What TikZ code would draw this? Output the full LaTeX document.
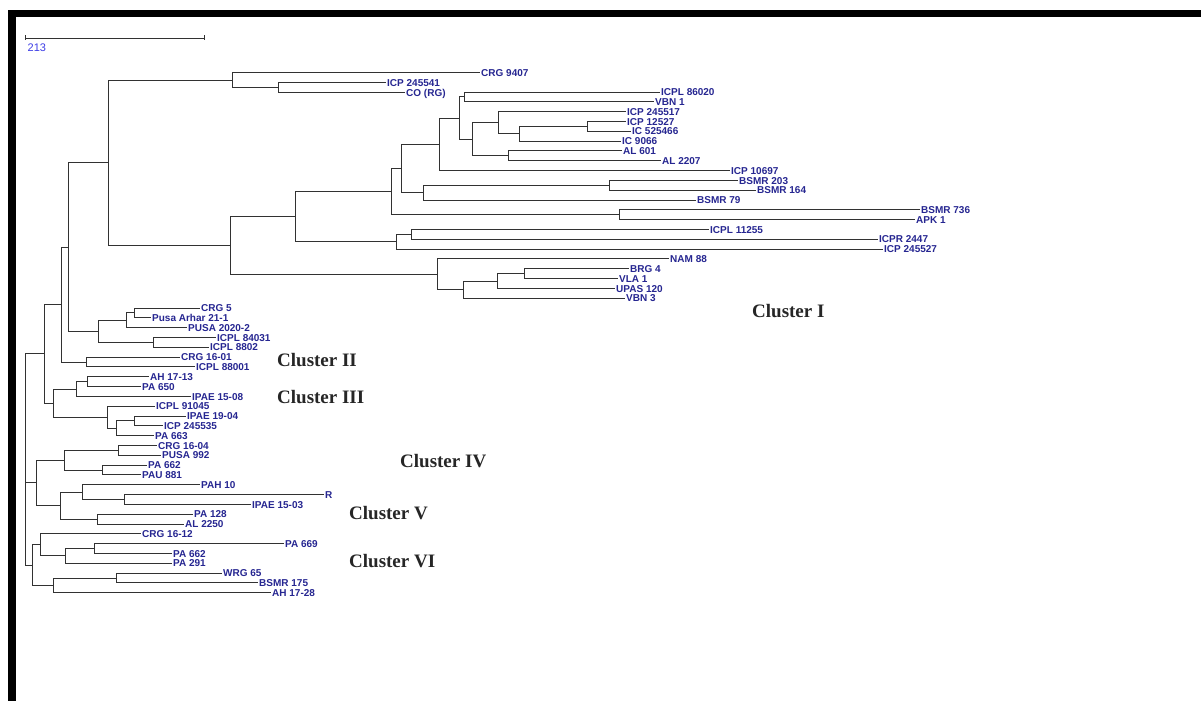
\documentclass[tikz,border=0pt]{standalone}
\usepackage{fontspec}
\setmainfont{Liberation Sans}
\newfontfamily\clusterfont{Liberation Serif}
\usetikzlibrary{calc}
\definecolor{leafblue}{RGB}{38,38,145}
\definecolor{scaleblue}{RGB}{60,60,230}
\definecolor{branchgray}{RGB}{50,50,50}
\newcommand\jn[4]{%
  \path let \p1=(#3), \p2=(#4) in coordinate (#1) at (#2,{0.5*(\y1+\y2)});
  \draw[br] (#1) |- (#3) (#1) |- (#4);
}
\begin{document}
\begin{tikzpicture}[x=1pt,y=-1pt,
  br/.style={draw=branchgray,line width=1pt},
  leaf/.style={anchor=west,inner sep=1pt,text=leafblue,font=\fontsize{10}{12}\selectfont\bfseries,text height=7.2pt,text depth=0pt},
  clus/.style={anchor=base west,inner sep=0pt,font=\clusterfont\fontsize{19}{22}\selectfont\bfseries,text=black!85},
  framebar/.style={fill=black},
]
\useasboundingbox (0,0) rectangle (1201,701);
\fill[white] (0,0) rectangle (1201,701);
% frame
\fill[framebar] (8,10.5) rectangle (1201,17);
\fill[framebar] (8,10.5) rectangle (16,701);
% scale bar
\coordinate (sb1) at (25,38);
\coordinate (sb2) at (204,38);
\draw[branchgray,line width=0.9pt] (sb1) -- (sb2);
\draw[branchgray,line width=0.9pt] ($(sb1)+(0,-2.5)$) -- ($(sb1)+(0,2.5)$);
\draw[branchgray,line width=0.9pt] ($(sb2)+(0,-2.5)$) -- ($(sb2)+(0,2.5)$);
\node[anchor=west,inner sep=0pt,text=scaleblue,font=\fontsize{11}{13}\selectfont] (sblabel) at (27.5,47.5) {213};
% leaves
\node[leaf] (l1) at (480,72.5) {CRG 9407};
\node[leaf] (l2) at (386,82.5) {ICP 245541};
\node[leaf] (l3) at (405,92.5) {CO (RG)};
\node[leaf] (l4) at (660,92) {ICPL 86020};
\node[leaf] (l5) at (654,101.8) {VBN 1};
\node[leaf] (l6) at (626,111.6) {ICP 245517};
\node[leaf] (l7) at (626,121.5) {ICP 12527};
\node[leaf] (l8) at (631,131.3) {IC 525466};
\node[leaf] (l9) at (621,141.1) {IC 9066};
\node[leaf] (l10) at (622,150.9) {AL 601};
\node[leaf] (l11) at (661,160.7) {AL 2207};
\node[leaf] (l12) at (730,170.6) {ICP 10697};
\node[leaf] (l13) at (738,180.4) {BSMR 203};
\node[leaf] (l14) at (756,190.2) {BSMR 164};
\node[leaf] (l15) at (696,200) {BSMR 79};
\node[leaf] (l16) at (920,209.8) {BSMR 736};
\node[leaf] (l17) at (915,219.7) {APK 1};
\node[leaf] (l18) at (709,229.5) {ICPL 11255};
\node[leaf] (l19) at (878,239.3) {ICPR 2447};
\node[leaf] (l20) at (883,249.1) {ICP 245527};
\node[leaf] (l21) at (669,258.9) {NAM 88};
\node[leaf] (l22) at (629,268.7) {BRG 4};
\node[leaf] (l23) at (618,278.6) {VLA 1};
\node[leaf] (l24) at (615,288.4) {UPAS 120};
\node[leaf] (l25) at (625,298.2) {VBN 3};
\node[leaf] (l26) at (200,308) {CRG 5};
\node[leaf] (l27) at (151,317.8) {Pusa Arhar 21-1};
\node[leaf] (l28) at (187,327.6) {PUSA 2020-2};
\node[leaf] (l29) at (216,337.5) {ICPL 84031};
\node[leaf] (l30) at (209,347.3) {ICPL 8802};
\node[leaf] (l31) at (180,357.1) {CRG 16-01};
\node[leaf] (l32) at (195,366.9) {ICPL 88001};
\node[leaf] (l33) at (149,376.7) {AH 17-13};
\node[leaf] (l34) at (141,386.6) {PA 650};
\node[leaf] (l35) at (191,396.4) {IPAE 15-08};
\node[leaf] (l36) at (155,406.2) {ICPL 91045};
\node[leaf] (l37) at (186,416) {IPAE 19-04};
\node[leaf] (l38) at (163,425.8) {ICP 245535};
\node[leaf] (l39) at (154,435.6) {PA 663};
\node[leaf] (l40) at (157,445.5) {CRG 16-04};
\node[leaf] (l41) at (161,455.3) {PUSA 992};
\node[leaf] (l42) at (147,465.1) {PA 662};
\node[leaf] (l43) at (141,474.9) {PAU 881};
\node[leaf] (l44) at (200,484.7) {PAH 10};
\node[leaf] (l45) at (324,494.5) {R};
\node[leaf] (l46) at (251,504.4) {IPAE 15-03};
\node[leaf] (l47) at (193,514.2) {PA 128};
\node[leaf] (l48) at (184,524) {AL 2250};
\node[leaf] (l49) at (141,533.8) {CRG 16-12};
\node[leaf] (l50) at (284,543.6) {PA 669};
\node[leaf] (l51) at (172,553.5) {PA 662};
\node[leaf] (l52) at (172,563.3) {PA 291};
\node[leaf] (l53) at (222,573.1) {WRG 65};
\node[leaf] (l54) at (258,582.9) {BSMR 175};
\node[leaf] (l55) at (271,592.7) {AH 17-28};
% internal nodes
\jn{a2}{278}{l2}{l3}
\jn{a1}{232}{l1}{a2}
\jn{c1}{464}{l4}{l5}
\jn{c5}{587}{l7}{l8}
\jn{c4}{519}{c5}{l9}
\jn{c3}{498}{l6}{c4}
\jn{c6}{508}{l10}{l11}
\jn{c2}{472}{c3}{c6}
\jn{c7}{459}{c1}{c2}
\jn{c8}{439}{c7}{l12}
\jn{d2}{609}{l13}{l14}
\jn{d1}{423}{d2}{l15}
\jn{c9}{401}{c8}{d1}
\jn{d3}{619}{l16}{l17}
\jn{c10}{391}{c9}{d3}
\jn{e2}{411}{l18}{l19}
\jn{e1}{396}{e2}{l20}
\jn{c11}{295}{c10}{e1}
\jn{f4}{524}{l22}{l23}
\jn{f3}{497}{f4}{l24}
\jn{f2}{463}{f3}{l25}
\jn{f1}{437}{l21}{f2}
\jn{b2}{230}{c11}{f1}
\jn{b1}{108}{a1}{b2}
\jn{g3}{134}{l26}{l27}
\jn{g2}{126}{g3}{l28}
\jn{g4}{153}{l29}{l30}
\jn{g1}{98}{g2}{g4}
\jn{h0}{68}{b1}{g1}
\jn{h1}{86}{l31}{l32}
\jn{h2}{61}{h0}{h1}
\jn{i2}{87}{l33}{l34}
\jn{i1}{76}{i2}{l35}
\jn{i5}{134}{l37}{l38}
\jn{i4}{116}{i5}{l39}
\jn{i3}{107}{l36}{i4}
\jn{i0}{53}{i1}{i3}
\jn{j0}{44}{h2}{i0}
\jn{k2}{118}{l40}{l41}
\jn{k3}{102}{l42}{l43}
\jn{k1}{64}{k2}{k3}
\jn{m3}{124}{l45}{l46}
\jn{m2}{82}{l44}{m3}
\jn{m4}{97}{l47}{l48}
\jn{m1}{60}{m2}{m4}
\jn{k0}{36}{k1}{m1}
\jn{n3}{94}{l50}{l51}
\jn{n2}{65}{n3}{l52}
\jn{n1}{40}{l49}{n2}
\jn{o2}{116}{l53}{l54}
\jn{o1}{53}{o2}{l55}
\jn{n0}{32}{n1}{o1}
\path let \p1=(j0), \p2=(n0) in coordinate (root) at (25,{0.5*(\y1+\y2)});
\draw[br] (root) |- (j0) (root) |- (k0) (root) |- (n0);
% cluster labels
\node[clus] (cl1) at (752,317) {Cluster I};
\node[clus] (cl2) at (277,366) {Cluster II};
\node[clus] (cl3) at (277,403) {Cluster III};
\node[clus] (cl4) at (400,467) {Cluster IV};
\node[clus] (cl5) at (349,519) {Cluster V};
\node[clus] (cl6) at (349,567) {Cluster VI};
\end{tikzpicture}
\end{document}
